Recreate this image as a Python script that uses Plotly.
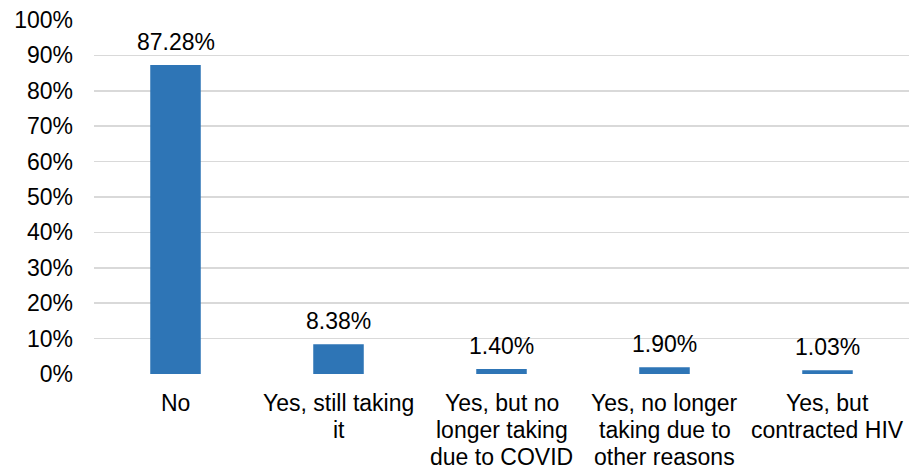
import plotly.graph_objects as go

categories = ["No", "Yes, still taking<br>it", "Yes, but no<br>longer taking<br>due to COVID",
              "Yes, no longer<br>taking due to<br>other reasons", "Yes, but<br>contracted HIV"]
values = [87.28, 8.38, 1.40, 1.90, 1.03]
y_ticks = list(range(0, 101, 10))
y_tick_labels = [f"{v}%" for v in y_ticks]

FONT = "Liberation Sans, Arial"
FS = 23

fig = go.Figure(go.Bar(
    x=categories, y=values,
    marker=dict(color="#2E75B6", line=dict(width=0)),
    hoverinfo="skip",
))

# value labels above bars
for c, v in zip(categories, values):
    fig.add_annotation(x=c, y=v, xref="x", yref="y", text=f"{v:.2f}%",
                       showarrow=False, yanchor="middle", yshift=23,
                       font=dict(family=FONT, size=FS, color="#000000"))

# category labels, one annotation per line for tight line spacing
for c in categories:
    for i, line in enumerate(c.split("<br>")):
        fig.add_annotation(x=c, y=0, xref="x", yref="y", text=line,
                           showarrow=False, yanchor="middle", yshift=-(29 + 27 * i),
                           font=dict(family=FONT, size=FS, color="#000000"))

fig.update_layout(
    width=909, height=467,
    margin=dict(l=94, r=0, t=20, b=93),
    plot_bgcolor="white", paper_bgcolor="white",
    bargap=0.69,
    showlegend=False,
    font=dict(family=FONT, size=FS, color="#000000"),
    xaxis=dict(showgrid=False, showline=False, ticks="", automargin=False,
               showticklabels=False),
    yaxis=dict(range=[0, 100], tickmode="array", tickvals=y_ticks, ticktext=y_tick_labels,
               showgrid=True, gridcolor="#D9D9D9", gridwidth=1.5,
               zeroline=False, showline=False, ticks="", automargin=False,
               ticklabeloverflow="allow",
               tickfont=dict(family=FONT, size=FS), ticklabelstandoff=20),
)

fig.write_html("out.html", config={"displayModeBar": False, "staticPlot": True},
               post_script="document.body.style.margin='0px';")
